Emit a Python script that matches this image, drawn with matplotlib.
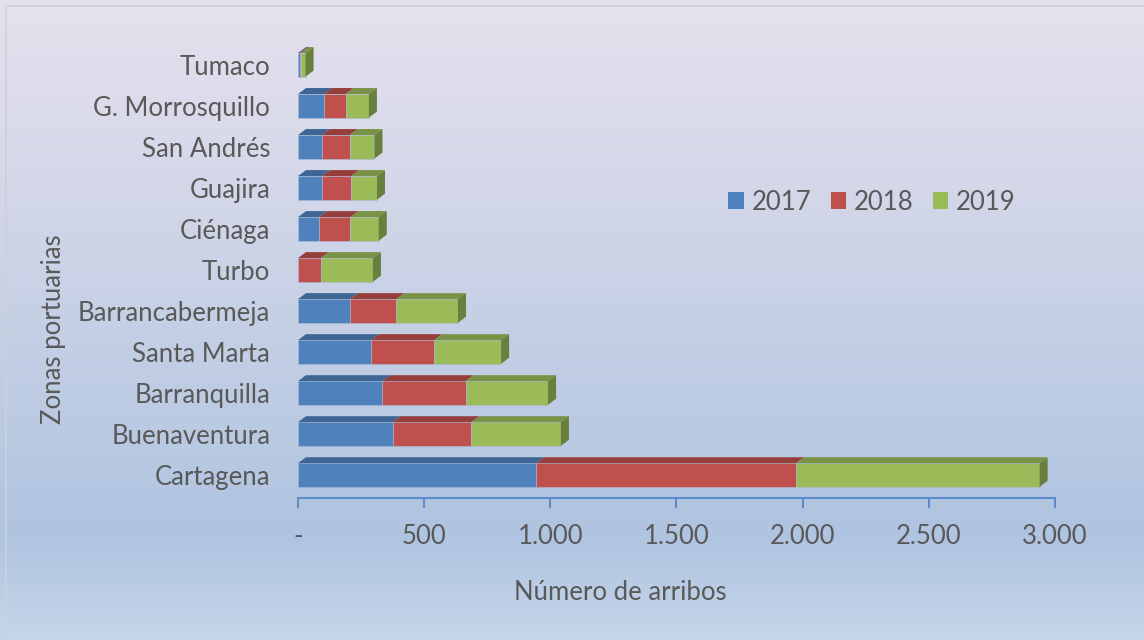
import matplotlib.pyplot as plt
import numpy as np
from matplotlib.colors import LinearSegmentedColormap, to_rgb
from matplotlib.patches import Patch, Polygon, Rectangle

# Data (bottom to top)
zonas = ["Cartagena", "Buenaventura", "Barranquilla", "Santa Marta", "Barrancabermeja",
         "Turbo", "Ciénaga", "Guajira", "San Andrés", "G. Morrosquillo", "Tumaco"]
y2017 = [943, 375, 334, 289, 206, 0, 83, 96, 94, 102, 6]
y2018 = [1031, 312, 330, 250, 184, 90, 125, 115, 111, 87, 6]
y2019 = [965, 355, 327, 266, 244, 207, 112, 102, 98, 92, 18]
years = ["2017", "2018", "2019"]
colors = ["#4f81bd", "#c0504d", "#9bbb59"]
xticks = [0, 500, 1000, 1500, 2000, 2500, 3000]
xtick_labels = ["-", "500", "1.000", "1.500", "2.000", "2.500", "3.000"]

plt.rcParams['font.family'] = ['Lato', 'DejaVu Sans']
txt = "#595959"
fs = 18.5

W, H = 1144, 640
fig = plt.figure(figsize=(W / 100, H / 100), dpi=100)

# background gradient
bg = fig.add_axes([0, 0, 1, 1], zorder=-10)
cmap = LinearSegmentedColormap.from_list("bg", [(0, "#e6e1ee"), (0.45, "#c9d2e6"),
                                                (0.84, "#afc4e0"), (1.0, "#c6d6ea")])
grad = np.linspace(0, 1, 256).reshape(-1, 1)
bg.imshow(grad, aspect="auto", cmap=cmap, extent=[0, 1, 0, 1], origin="upper")
bg.add_patch(Rectangle((6 / W, -0.01), 1.02, 1 - 6 / H + 0.01, fill=False,
                       edgecolor="#d0d0d0", lw=1.2))
bg.set_xlim(0, 1)
bg.set_ylim(0, 1)
bg.axis("off")

ax = fig.add_axes([298 / W, 142 / H, 757 / W, 466 / H])
ax.patch.set_alpha(0)
ax.set_xlim(0, 3000)
ax.set_ylim(-0.56, 10.8)

# depth of the 3D faces, in data units
bbox = ax.get_window_extent()
dx = 8 * 3000 / bbox.width
dy = 6 * (10.8 + 0.56) / bbox.height
h = 0.575

def shade(c, f):
    r, g, b = to_rgb(c)
    return (r * f, g * f, b * f)

ypos = np.arange(len(zonas))
left = np.zeros(len(zonas))
series = [y2017, y2018, y2019]
for vals, c in zip(series, colors):
    vals = np.array(vals, dtype=float)
    ax.barh(ypos, vals, left=left, height=h, color=c, edgecolor="#a9bcd6",
            linewidth=0.4, zorder=3)
    for y, l, v in zip(ypos, left, vals):
        if v <= 0:
            continue
        top = y + h / 2
        ax.add_patch(Polygon([(l, top), (l + v, top), (l + v + dx, top + dy), (l + dx, top + dy)],
                             closed=True, facecolor=shade(c, 0.78), edgecolor="none", zorder=3))
    left = left + vals

# right side face of each stack
for y, r in zip(ypos, left):
    ax.add_patch(Polygon([(r, y - h / 2), (r + dx, y - h / 2 + dy), (r + dx, y + h / 2 + dy), (r, y + h / 2)],
                         closed=True, facecolor=shade(colors[2], 0.68), edgecolor="none", zorder=3))

for s in ["top", "right", "left"]:
    ax.spines[s].set_visible(False)
ax.spines["bottom"].set_color("#5b8bc8")
ax.spines["bottom"].set_linewidth(1.5)
ax.set_xticks(xticks)
ax.set_xticklabels(xtick_labels)
ax.tick_params(axis="x", colors="#5b8bc8", length=7, width=1.5, direction="out",
               labelcolor=txt, labelsize=fs, pad=12)
ax.set_yticks(ypos)
ax.set_yticklabels(zonas)
ax.tick_params(axis="y", length=0, labelcolor=txt, labelsize=fs, pad=20)

fig.text(53 / W, 1 - 329 / H, "Zonas portuarias", rotation=90, ha="center", va="center",
         color=txt, fontsize=fs)
fig.text(620 / W, 1 - 592 / H, "Número de arribos", ha="center", va="center",
         color=txt, fontsize=fs)

handles = [Patch(facecolor=c, edgecolor="none", label=yv) for c, yv in zip(colors, years)]
fig.legend(handles=handles, loc="center", bbox_to_anchor=(872 / W, 1 - 202 / H), ncol=3,
           frameon=False, fontsize=fs, labelcolor=txt, handlelength=0.6, handleheight=0.6,
           handletextpad=0.3, columnspacing=0.75)

fig.savefig("out.png", dpi=100)
